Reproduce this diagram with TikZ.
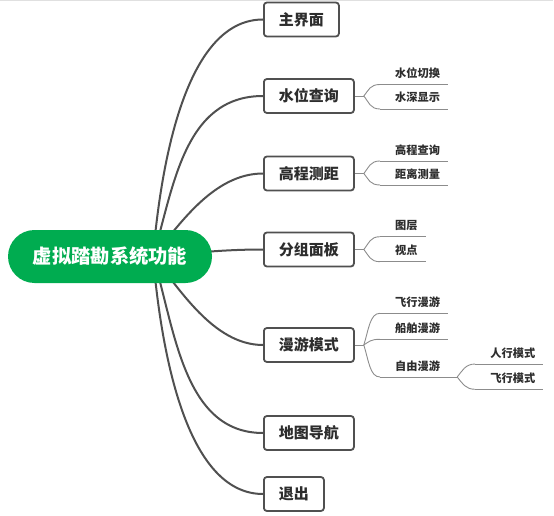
\documentclass[tikz,border=0pt]{standalone}
\usepackage{fontspec}
\setmainfont{Noto Sans CJK SC}
\usetikzlibrary{backgrounds}
\definecolor{rootgreen}{RGB}{0,172,80}
\definecolor{linedark}{RGB}{80,80,80}
\definecolor{linelight}{RGB}{140,140,140}
\definecolor{txt}{RGB}{45,45,45}
\begin{document}
\begin{tikzpicture}[x=1pt,y=-1pt,
 rootbox/.style={draw=none, fill=rootgreen, rounded corners=26.5pt, minimum width=204pt, minimum height=53pt, text=white, font=\fontsize{19.3}{22}\selectfont\bfseries, inner sep=0pt},
 topic/.style={draw=linedark, line width=1.8pt, fill=white, rounded corners=3pt, minimum height=34pt, inner xsep=15pt, inner ysep=0pt, anchor=west, text=txt, font=\fontsize{15}{18}\selectfont\bfseries},
 subtopic/.style={anchor=south west, inner xsep=8pt, inner ysep=4.3pt, text height=9pt, text depth=2.5pt, text=txt, font=\fontsize{11.2}{13}\selectfont\bfseries},
 mainline/.style={draw=linedark, line width=2pt},
 subline/.style={draw=linelight, line width=0.9pt},
]
\useasboundingbox (0,0) rectangle (554,516);
\draw[black!12, line width=1pt] (0,0.5) -- (553,0.5);

\node[rootbox] (root) at (110,256.5) {虚拟踏勘系统功能};

\node[topic] (t1) at (263,19.5) {主界面};
\node[topic] (t2) at (263,96) {水位查询};
\node[topic] (t3) at (263,173.5) {高程测距};
\node[topic] (t4) at (263,249.5) {分组面板};
\node[topic] (t5) at (263,345) {漫游模式};
\node[topic] (t6) at (263,433) {地图导航};
\node[topic] (t7) at (263,494) {退出};

\begin{pgfonlayer}{background}
\draw[mainline] ([xshift=43pt]root.center) .. controls +(-85:120) and +(-70,0) .. (t1.west);
\draw[mainline] ([xshift=43pt]root.center) .. controls +(-73:70) and +(-80,0) .. (t2.west);
\draw[mainline] ([xshift=43pt]root.center) .. controls +(-50:40) and +(-50,0) .. (t3.west);
\draw[mainline] ([xshift=43pt]root.center) .. controls +(-5:40) and +(-40,0) .. (t4.west);
\draw[mainline] ([xshift=43pt]root.center) .. controls +(50:40) and +(-50,0) .. (t5.west);
\draw[mainline] ([xshift=43pt]root.center) .. controls +(73:75) and +(-80,0) .. (t6.west);
\draw[mainline] ([xshift=43pt]root.center) .. controls +(85:120) and +(-70,0) .. (t7.west);
\end{pgfonlayer}

% forks
\coordinate (f2) at ([xshift=9pt]t2.east);
\coordinate (f3) at ([xshift=9pt]t3.east);
\coordinate (f4) at ([xshift=9pt]t4.east);
\coordinate (f5) at ([xshift=9pt]t5.east);
\draw[subline] (t2.east) -- (f2);
\draw[subline] (t3.east) -- (f3);
\draw[subline] (t4.east) -- (f4);
\draw[subline] (t5.east) -- (f5);

% children
\node[subtopic] (c21) at (380,84.5) {\hspace*{7pt}水位切换};
\node[subtopic] (c22) at (380,109) {\hspace*{7pt}水深显示};
\node[subtopic] (c31) at (380,161) {\hspace*{7pt}高程查询};
\node[subtopic] (c32) at (380,185) {\hspace*{7pt}距离测量};
\node[subtopic] (c41) at (380,236.7) {\hspace*{7pt}图层};
\node[subtopic] (c42) at (380,261.7) {\hspace*{7pt}视点};
\node[subtopic] (c51) at (380,313.3) {\hspace*{7pt}飞行漫游};
\node[subtopic] (c52) at (380,339.3) {\hspace*{7pt}船舶漫游};
\node[subtopic] (c53) at (380,377) {\hspace*{7pt}自由漫游};
\coordinate (f53) at ([xshift=9pt]c53.south east);
\node[subtopic] (c531) at ([xshift=18pt,yshift=13pt]f53) {\hspace*{7pt}人行模式};
\node[subtopic] (c532) at ([xshift=18pt,yshift=-12.3pt]f53) {\hspace*{7pt}飞行模式};

\foreach \c in {c21,c22,c31,c32,c41,c42,c51,c52,c531,c532}
  \draw[subline] (\c.south west) -- (\c.south east);
\draw[subline] (c53.south west) -- (f53);

\draw[subline] (f2) .. controls +(5,-6) and +(-10,0) .. (c21.south west);
\draw[subline] (f2) .. controls +(5,6) and +(-10,0) .. (c22.south west);
\draw[subline] (f3) .. controls +(5,-6) and +(-10,0) .. (c31.south west);
\draw[subline] (f3) .. controls +(5,6) and +(-10,0) .. (c32.south west);
\draw[subline] (f4) .. controls +(5,-6) and +(-10,0) .. (c41.south west);
\draw[subline] (f4) .. controls +(5,6) and +(-10,0) .. (c42.south west);
\draw[subline] (f5) .. controls +(5,-16) and +(-10,0) .. (c51.south west);
\draw[subline] (f5) .. controls +(5,-3) and +(-10,0) .. (c52.south west);
\draw[subline] (f5) .. controls +(5,16) and +(-10,0) .. (c53.south west);
\draw[subline] (f53) .. controls +(5,-6) and +(-10,0) .. (c531.south west);
\draw[subline] (f53) .. controls +(5,6) and +(-10,0) .. (c532.south west);
\end{tikzpicture}
\end{document}
